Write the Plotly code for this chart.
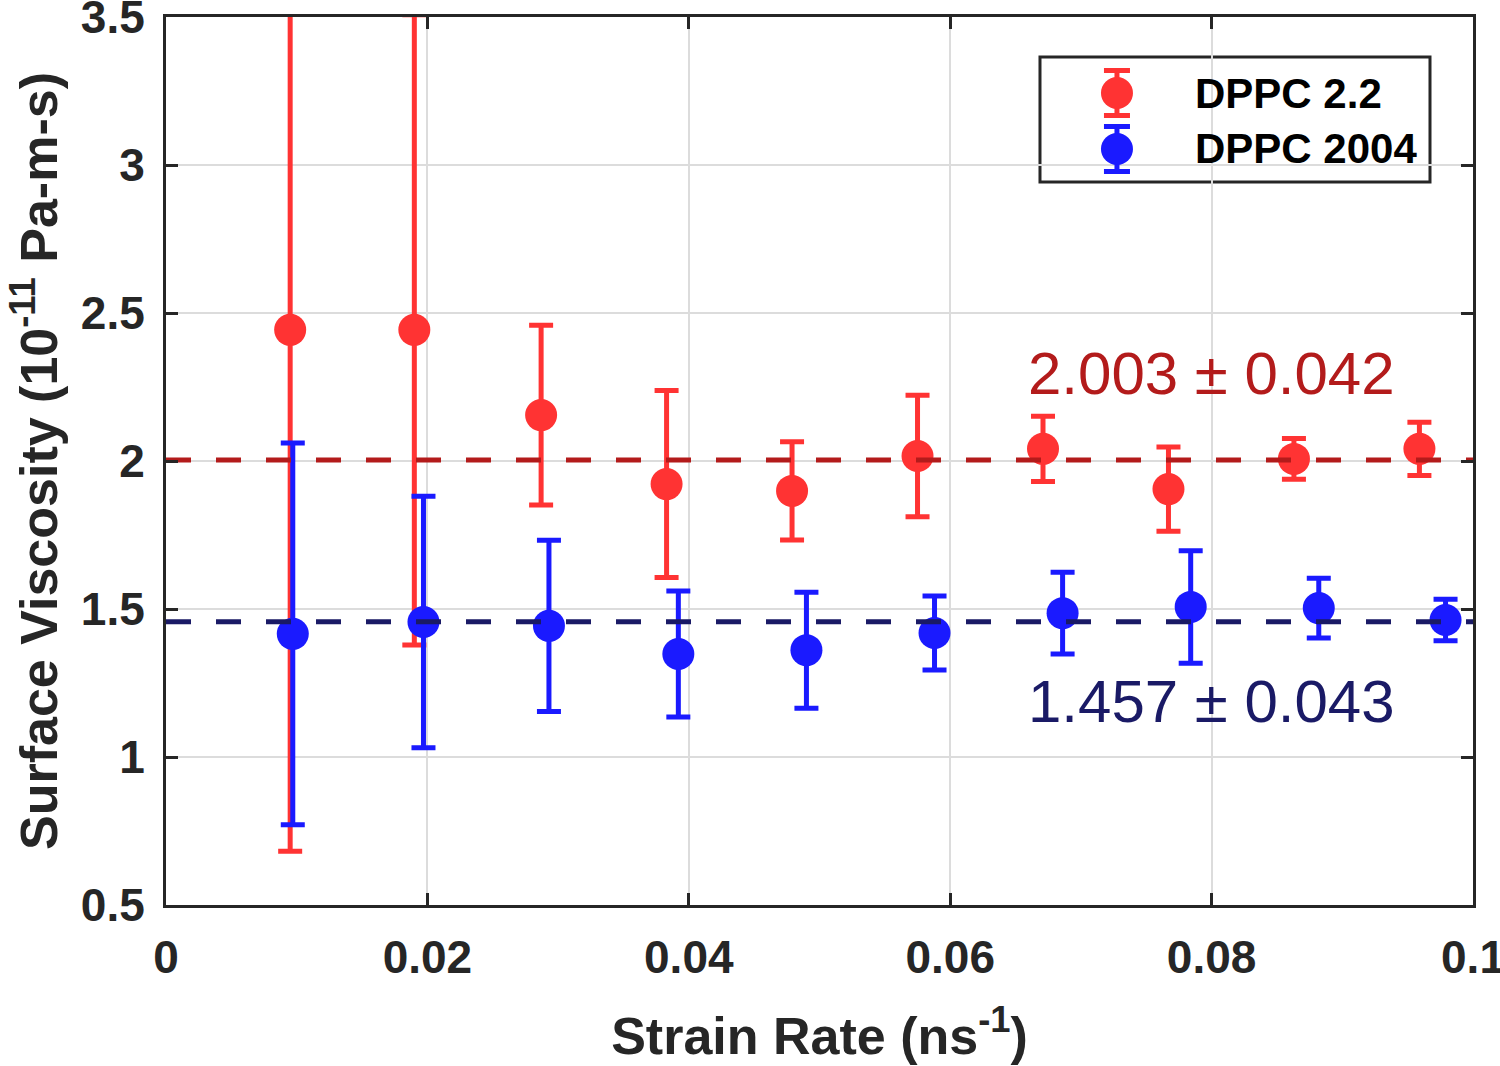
import plotly.graph_objects as go

# ---- data ----
strain_red = [0.0095, 0.0190, 0.0287, 0.0383, 0.0479, 0.0575, 0.0671, 0.0767, 0.0863, 0.0959]
visc_red = [2.443, 2.443, 2.155, 1.922, 1.899, 2.017, 2.041, 1.905, 2.007, 2.041]
err_red = [1.761, 1.065, 0.304, 0.316, 0.166, 0.205, 0.110, 0.142, 0.069, 0.090]

strain_blue = [0.0097, 0.0197, 0.0293, 0.0392, 0.0490, 0.0588, 0.0686, 0.0784, 0.0882, 0.0979]
visc_blue = [1.416, 1.456, 1.443, 1.348, 1.361, 1.419, 1.486, 1.507, 1.503, 1.463]
err_blue = [0.645, 0.425, 0.289, 0.213, 0.196, 0.125, 0.138, 0.190, 0.101, 0.070]

mean_red, sd_red = 2.003, 0.042
mean_blue, sd_blue = 1.457, 0.043

names = ["DPPC 2.2", "DPPC 2004"]
x_range = [0, 0.1]
y_range = [0.5, 3.5]
x_ticks = [0, 0.02, 0.04, 0.06, 0.08, 0.1]
x_ticklabels = ["0", "0.02", "0.04", "0.06", "0.08", "0.1"]
y_ticks = [0.5, 1, 1.5, 2, 2.5, 3, 3.5]
y_ticklabels = ["0.5", "1", "1.5", "2", "2.5", "3", "3.5"]

RED = "#ff3333"
BLUE = "#1a1aff"
DRED = "#b31b1b"
NAVY = "#1a1a66"
INK = "#262626"
FONT = "Liberation Sans, Arial, sans-serif"

fig = go.Figure()

fig.add_trace(go.Scatter(
    x=strain_red, y=visc_red, mode="markers", name=names[0], showlegend=False,
    marker=dict(color=RED, size=32, line=dict(width=0)),
    error_y=dict(type="data", array=err_red, visible=True, color=RED, thickness=5, width=12),
))
fig.add_trace(go.Scatter(
    x=strain_blue, y=visc_blue, mode="markers", name=names[1], showlegend=False,
    marker=dict(color=BLUE, size=32, line=dict(width=0)),
    error_y=dict(type="data", array=err_blue, visible=True, color=BLUE, thickness=5, width=12),
))

# mean lines
fig.add_trace(go.Scatter(
    x=x_range, y=[mean_red, mean_red], mode="lines", showlegend=False, hoverinfo="skip",
    line=dict(color=DRED, width=5, dash="25px,25px"),
))
fig.add_trace(go.Scatter(
    x=x_range, y=[mean_blue, mean_blue], mode="lines", showlegend=False, hoverinfo="skip",
    line=dict(color=NAVY, width=5, dash="25px,25px"),
))

fig.add_annotation(x=0.08, y=2.297, text=f"{mean_red:.3f} ± {sd_red:.3f}", showarrow=False,
                   font=dict(family=FONT, size=60, color=DRED), xanchor="center", yanchor="middle")
fig.add_annotation(x=0.08, y=1.189, text=f"{mean_blue:.3f} ± {sd_blue:.3f}", showarrow=False,
                   font=dict(family=FONT, size=60, color=NAVY), xanchor="center", yanchor="middle")

# ---- legend (box, glyphs with error bars, labels) drawn on an overlay axis ----
leg_x0, leg_x1, leg_y0, leg_y1 = 0.6687, 0.9671, 0.8142, 0.955
leg_glyph_x = 0.7276
leg_text_x = 0.7858
leg_rows = [0.9144, 0.8514]
leg_half = 0.0253
fig.add_shape(type="rect", xref="paper", yref="paper", x0=leg_x0, x1=leg_x1, y0=leg_y0, y1=leg_y1,
              line=dict(color=INK, width=3), fillcolor="white", layer="between")
for name, col, yrow in zip(names, [RED, BLUE], leg_rows):
    fig.add_trace(go.Scatter(
        x=[leg_glyph_x], y=[yrow], xaxis="x2", yaxis="y2", mode="markers", showlegend=False,
        hoverinfo="skip", marker=dict(color=col, size=32, line=dict(width=0)),
        error_y=dict(type="constant", value=leg_half, visible=True, color=col, thickness=5, width=13),
    ))
    fig.add_annotation(xref="paper", yref="paper", x=leg_text_x, y=yrow, text=f"<b>{name}</b>",
                       showarrow=False, xanchor="left", yanchor="middle",
                       font=dict(family=FONT, size=42, color="black"))

axis_common = dict(
    showline=True, linecolor=INK, linewidth=3, mirror="ticks",
    ticks="inside", ticklen=12, tickwidth=3, tickcolor=INK,
    showgrid=True, gridcolor="#dcdcdc", gridwidth=2, zeroline=False,
    ticklabeloverflow="allow", automargin=False,
    tickfont=dict(family=FONT, size=46, color=INK, weight="bold"),
)

fig.update_xaxes(range=x_range, tickvals=x_ticks, ticktext=x_ticklabels, ticklabelstandoff=10,
                 title=dict(text="Strain Rate (ns<sup>-1</sup>)", standoff=36,
                            font=dict(family=FONT, size=52, color=INK, weight="bold")),
                 **axis_common)
fig.update_yaxes(range=y_range, tickvals=y_ticks, ticktext=y_ticklabels, ticklabelstandoff=9,
                 title=dict(text="Surface Viscosity (10<sup>-11</sup> Pa-m-s)", standoff=7,
                            font=dict(family=FONT, size=52, color=INK, weight="bold")),
                 **axis_common)

fig.update_layout(
    width=1500, height=1066,
    margin=dict(l=166, r=27, t=17, b=161, autoexpand=False),
    plot_bgcolor="white", paper_bgcolor="white",
    xaxis2=dict(overlaying="x", range=[0, 1], visible=False, fixedrange=True),
    yaxis2=dict(overlaying="y", range=[0, 1], visible=False, fixedrange=True),
    showlegend=False,
)

fig.write_html("out.html", config={"displayModeBar": False},
               post_script="document.body.style.margin='0';document.body.style.overflow='hidden';")
